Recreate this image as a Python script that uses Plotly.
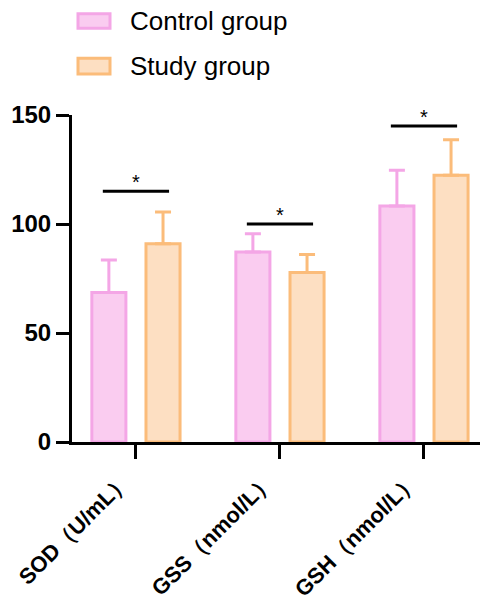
import plotly.graph_objects as go

categories = ["SOD（U/mL）", "GSS（nmol/L）", "GSH（nmol/L）"]
control_mean = [68.6, 87.1, 108.3]
control_err = [14.9, 8.4, 16.4]
study_mean = [90.9, 77.8, 122.4]
study_err = [14.6, 8.2, 16.2]
sig_height = [115, 100, 145]
sig_label = ["*", "*", "*"]
y_ticks = [0, 50, 100, 150]

ctrl_line = "#F4A6E6"
ctrl_fill = "#FACCF0"
study_line = "#FBBC7A"
study_fill = "#FDDFC2"

xs = list(range(len(categories)))
FONT = "Liberation Sans, Arial, sans-serif"

fig = go.Figure()
fig.add_trace(go.Bar(
    x=xs, y=control_mean, name="Control group",
    marker=dict(color=ctrl_fill, line=dict(color=ctrl_line, width=3)),
    error_y=dict(type="data", array=control_err, arrayminus=[0]*3, symmetric=False,
                 color=ctrl_line, thickness=3, width=8),
    showlegend=False,
))
fig.add_trace(go.Bar(
    x=xs, y=study_mean, name="Study group",
    marker=dict(color=study_fill, line=dict(color=study_line, width=3)),
    error_y=dict(type="data", array=study_err, arrayminus=[0]*3, symmetric=False,
                 color=study_line, thickness=3, width=8),
    showlegend=False,
))

# significance bars
for i, (h, lab) in enumerate(zip(sig_height, sig_label)):
    fig.add_shape(type="line", xref="x", yref="y", x0=i-0.23, x1=i+0.23, y0=h, y1=h,
                  line=dict(color="black", width=3))
    fig.add_annotation(x=i, y=h, xref="x", yref="y", text=lab, showarrow=False,
                       yanchor="bottom", yshift=-4,
                       font=dict(size=20, color="black", family=FONT))

# custom legend
W, H, L, T = 408, 327, 72, 115
def px(x):
    return (x - L) / W
def py(y):
    return (T + H - y) / H

legend_items = [("Control group", ctrl_fill, ctrl_line, 12.7, 29.3),
                ("Study group", study_fill, study_line, 57.3, 75.0)]
for name, fc, lc, y0, y1 in legend_items:
    fig.add_shape(type="rect", xref="paper", yref="paper",
                  x0=px(78), x1=px(110), y0=py(y1 - 1), y1=py(y0 + 1),
                  fillcolor=fc, line=dict(color=lc, width=3))
    fig.add_annotation(xref="paper", yref="paper", x=px(128), y=py((y0 + y1) / 2),
                       text=name, showarrow=False, xanchor="left", yanchor="middle",
                       font=dict(size=26, color="black", family=FONT))

fig.update_layout(
    width=480, height=601,
    margin=dict(l=L, r=0, t=T, b=601 - T - H),
    paper_bgcolor="white", plot_bgcolor="white",
    barmode="group", bargap=0.248, bargroupgap=0.371,
    font=dict(family=FONT, color="black"),
)
fig.update_xaxes(
    range=[-0.444, 2.389], tickvals=xs, ticktext=categories, tickangle=-45,
    ticklabelshift=-12,
    showline=True, linecolor="black", linewidth=3,
    ticks="outside", ticklen=14, tickwidth=3, tickcolor="black",
    tickfont=dict(size=22, family=FONT, weight="bold"),
    showgrid=False, zeroline=False,
)
fig.update_yaxes(
    range=[0, 150], tickvals=y_ticks,
    showline=True, linecolor="black", linewidth=3,
    ticks="outside", ticklen=13, tickwidth=3, tickcolor="black",
    tickfont=dict(size=24, family=FONT, weight="bold"),
    showgrid=False, zeroline=False,
)

fig.write_html("out.html", config={"displayModeBar": False},
               post_script="document.body.style.margin='0';")
